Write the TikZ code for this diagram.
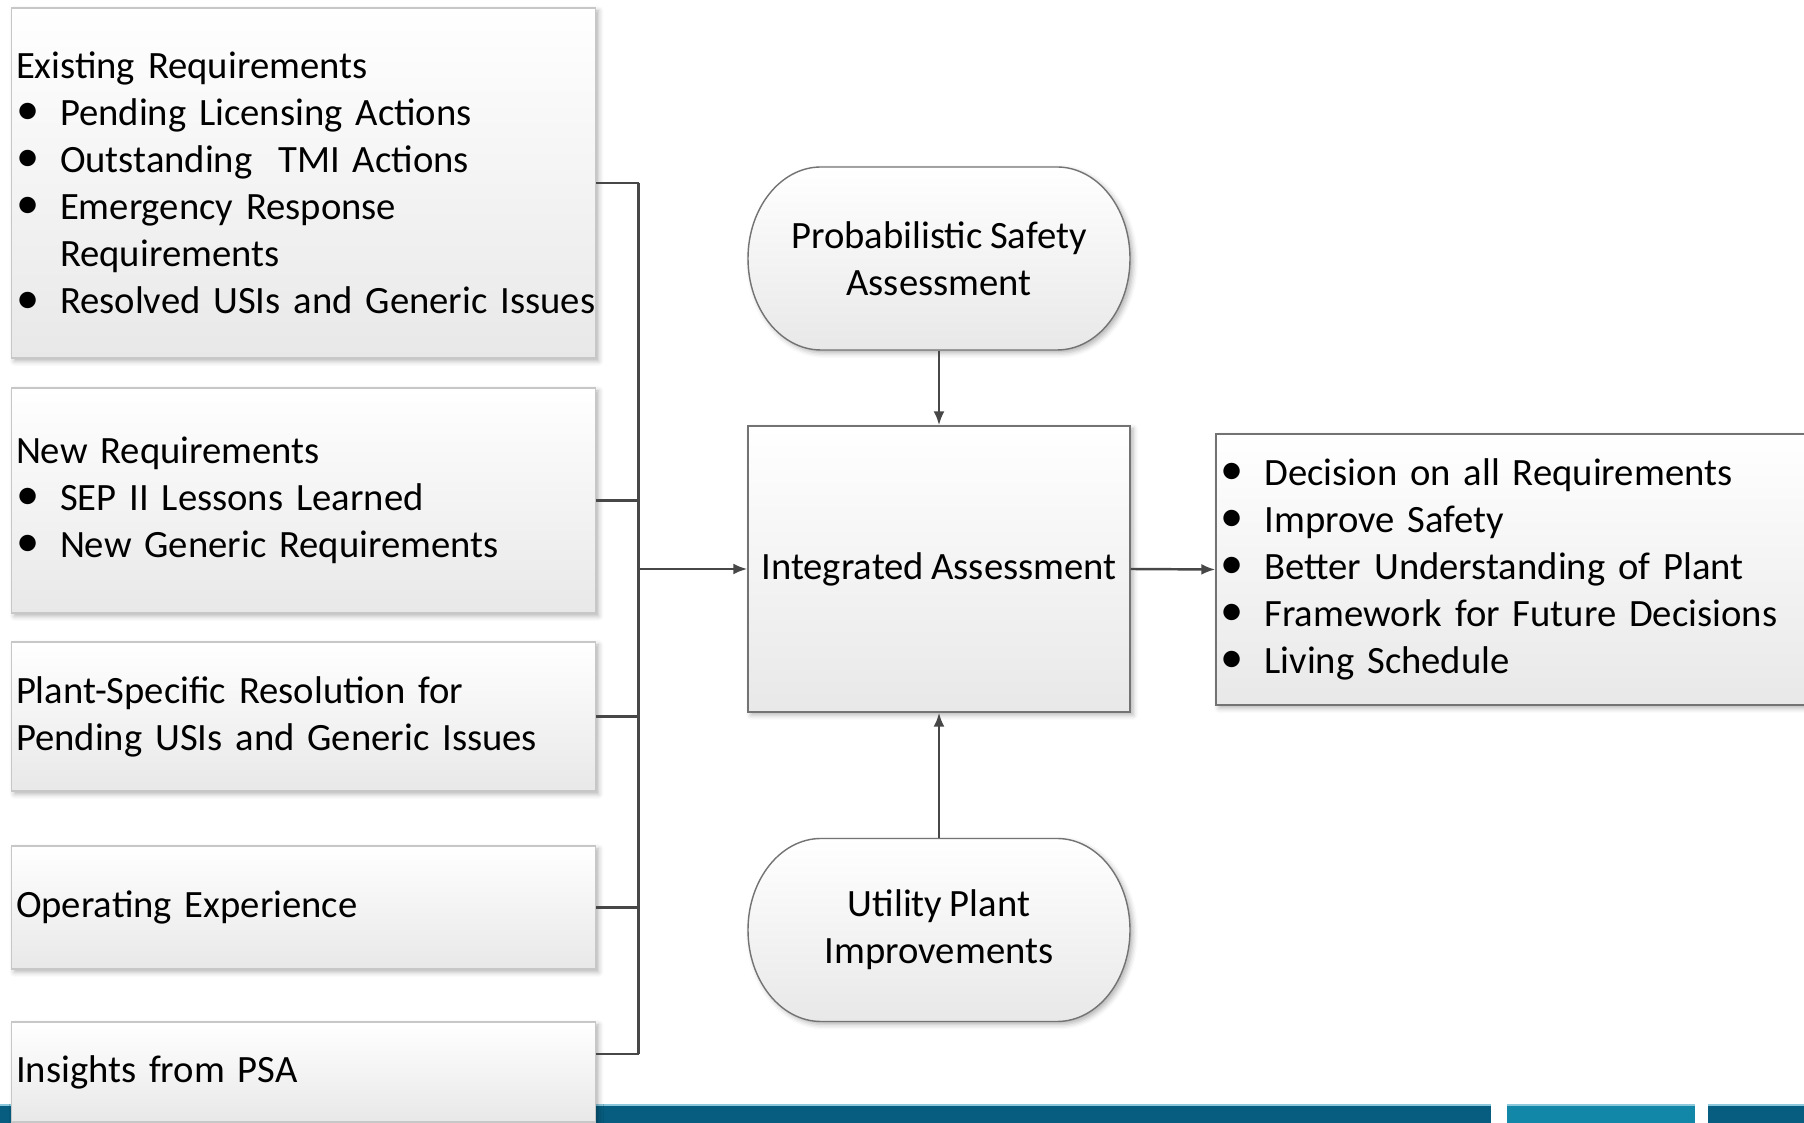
\documentclass[tikz,border=0pt]{standalone}
\usepackage{fontspec}
\setmainfont{Carlito}
\usetikzlibrary{shadows.blur,arrows.meta}

\definecolor{banddark}{HTML}{075D80}
\definecolor{bandlight}{HTML}{1287A7}
\definecolor{bandedge}{HTML}{8CC8DC}

\hyphenpenalty=10000
\exhyphenpenalty=10000

% text face of all labels, with slightly tighter word spacing
\DeclareRobustCommand{\lblfont}{\fontsize{11pt}{13.4pt}\selectfont\spaceskip=0.19em plus 0.08em minus 0.03em\relax}
% bullet item inside the boxes
\newcommand{\itm}{\makebox[0.44cm][l]{\raisebox{0.05ex}{\scalebox{1.2}{\textbullet}}}}

\begin{document}
\begin{tikzpicture}[
    every node/.style={font=\lblfont},
    softshadow/.style={blur shadow={shadow xshift=0.03cm, shadow yshift=-0.03cm, shadow blur radius=0.05cm, shadow opacity=30}},
    box/.style={rectangle, draw=black!22, top color=white, bottom color=black!9, minimum width=5.84cm, text width=5.75cm, inner xsep=0.045cm, align=left, softshadow},
    proc/.style={rectangle, draw=black!55, top color=white, bottom color=black!9, minimum width=3.82cm, minimum height=2.86cm, align=center, inner sep=2pt, softshadow},
    term/.style={minimum width=3.82cm, minimum height=1.83cm, align=center, inner sep=2pt},
    termfill/.style={draw=black!55, top color=white, bottom color=black!9, softshadow},
    conn/.style={draw=black!72, line width=0.7pt},
    arr/.style={conn, -{Latex[length=0.14cm, width=0.11cm]}}
]
\useasboundingbox (0,0) rectangle (18.04,11.23);

% bottom band
\fill[banddark] (0,0) rectangle (14.91,0.18);
\fill[bandlight] (15.07,0) rectangle (16.95,0.18);
\fill[banddark] (17.08,0) rectangle (18.04,0.18);
\draw[bandedge, line width=0.4pt] (0,0.178) -- (14.91,0.178) (15.07,0.178) -- (16.95,0.178) (17.08,0.178) -- (18.04,0.178);

% inputs on the left
\node[box, minimum height=3.50cm] (exist) at (3.035, 9.40) {Existing Requirements\\
  \itm Pending Licensing Actions\\
  \itm Outstanding~ TMI Actions\\
  \itm Emergency Response\\
  \hspace*{0.44cm}Requirements\\
  \itm \mbox{Resolved USIs and Generic Issues}};
\node[box, minimum height=2.25cm] (newreq) at (3.035, 6.225) {New Requirements\\
  \itm SEP II Lessons Learned\\
  \itm New Generic Requirements};
\node[box, minimum height=1.49cm] (plant) at (3.035, 4.065) {Plant-Specific Resolution for\\Pending USIs and Generic Issues};
\node[box, minimum height=1.23cm] (opexp) at (3.035, 2.155) {Operating Experience};
\node[box, minimum height=1.00cm] (insight) at (3.035, 0.51) {Insights from PSA};

% centre column: terminators with elliptic ends, drawn under their text
\coordinate (psac) at (9.39, 8.645);
\coordinate (utilc) at (9.39, 1.93);
\foreach \tc in {psac, utilc}
  \path[termfill] ([shift={(-1.18,0.915)}]\tc) -- ([shift={(1.18,0.915)}]\tc)
    arc[start angle=90, end angle=-90, x radius=0.73cm, y radius=0.915cm]
    -- ([shift={(-1.18,-0.915)}]\tc)
    arc[start angle=270, end angle=90, x radius=0.73cm, y radius=0.915cm] -- cycle;
\node[term] (psa) at (psac) {Probabilistic Safety\\Assessment};
\node[proc] (integ) at (9.39, 5.54) {Integrated Assessment};
\node[term] (utility) at (utilc) {Utility Plant\\Improvements};

% outcome
\node[box, draw=black!55, minimum width=5.94cm, text width=5.85cm, minimum height=2.71cm] (outcome) at (15.13, 5.535) {\itm Decision on all Requirements\\
  \itm Improve Safety\\
  \itm Better Understanding of Plant\\
  \itm Framework for Future Decisions\\
  \itm Living Schedule};

% collecting bus
\coordinate (bus) at (6.385, 5.54);
\draw[conn] (exist.east) -- (exist.east -| bus);
\draw[conn] (newreq.east) -- (newreq.east -| bus);
\draw[conn] (plant.east) -- (plant.east -| bus);
\draw[conn] (opexp.east) -- (opexp.east -| bus);
\draw[conn] ([yshift=0.18cm]insight.east) -- ([yshift=0.18cm]insight.east -| bus);
\draw[conn] (exist.east -| bus) -- ([yshift=0.18cm]insight.east -| bus);

\draw[arr] (bus) -- (integ.west);
\draw[arr] (psa.south) -- (integ.north);
\draw[arr] (utility.north) -- (integ.south);
\draw[arr] (integ.east) -- (outcome.west);
\end{tikzpicture}
\end{document}
